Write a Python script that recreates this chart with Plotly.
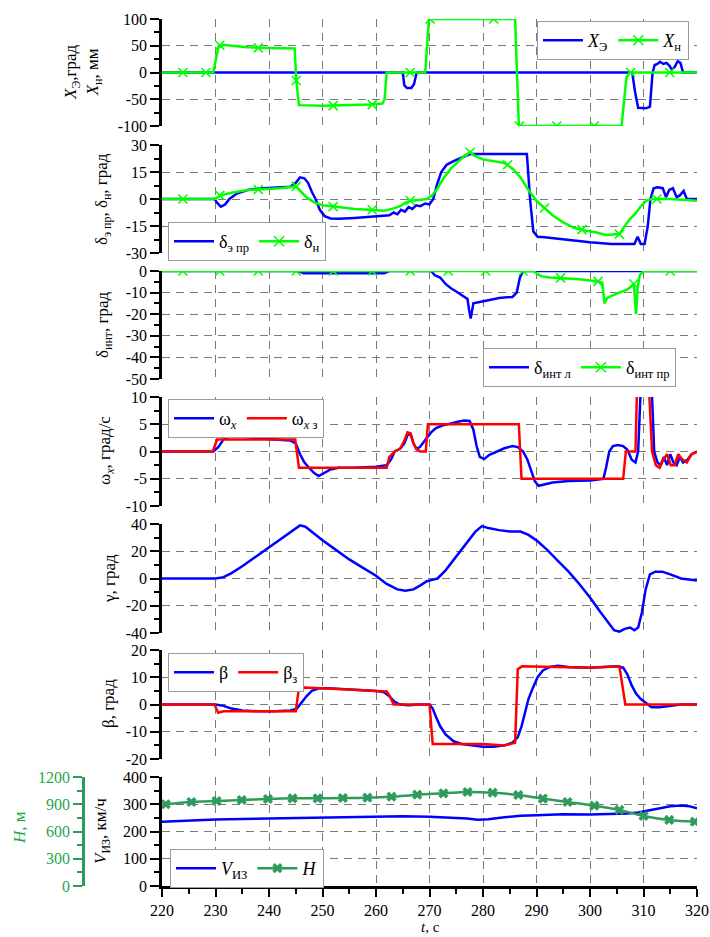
import plotly.graph_objects as go

# ---------------- data ----------------
# Panel 1: X_Э (blue), X_н (green)
t_xe = [220, 265.0, 265.3, 265.8, 266.6, 267.1, 267.6, 307.9, 308.4, 309.0, 310.5, 311.2, 311.7, 312.1, 312.6, 313.1, 313.7, 314.3, 314.9, 315.3, 315.8, 316.4, 316.9, 317.4, 320]
xe = [0, 0, -24, -29, -29, -22, 0, 0, -35, -66, -67, -64, 0, 14, 16, 20, 16, 18, 12, 5, 10, 21, 18, 0, 0]
t_xn = [220, 229.6, 230.5, 231.5, 233, 236, 240, 244.8, 245.1, 245.6, 250, 255, 259, 261.2, 261.6, 262.0, 269.2, 269.9, 286.0, 286.7, 305.9, 306.8, 307.4, 320]
xn = [0, 0, 46, 52, 50, 47, 46, 45, -15, -61, -62, -61, -60, -58, -50, 0, 0, 100, 100, -100, -100, -10, 0, 0]
t_xn_mk = [223.9, 228.2, 230.8, 238.0, 245.1, 252.0, 259.3, 266.4, 270.1, 282.0, 286.8, 293.8, 300.8, 307.6, 314.9]
xn_mk = [0, 0, 51, 46, -15, -62, -60, 0, 100, 100, -100, -100, -100, 0, 0]

# Panel 2: δэ пр (blue), δн (green)
t_de = [220, 229.8, 230.4, 231.0, 231.8, 232.6, 234, 236, 238, 240, 242, 244, 245.0, 245.8, 246.6, 247.3, 248.0, 248.7, 249.5, 250.4, 251.5, 253, 256, 259, 261, 262.5, 263.3, 264.0, 264.7, 265.4, 266.1, 266.8, 267.5, 268.3, 269.2, 270.0, 270.7, 271.4, 272.2, 273.2, 274.5, 276, 277.6, 288.2, 288.8, 289.4, 290.2, 291.5, 293, 296, 300, 304, 308.3, 308.9, 309.5, 310.2, 310.8, 311.3, 311.9, 312.6, 313.6, 314.2, 314.8, 315.5, 316.2, 316.8, 317.5, 318.1, 320]
de = [0, 0, -2.5, -4.3, -3, 0, 3, 5, 5.8, 6, 6.3, 6.8, 9, 12, 11.5, 9, 4, 0, -6, -9.5, -10.8, -11, -10.5, -10, -9.6, -9, -7.5, -8.5, -6, -7, -4.5, -5.5, -3.5, -4, -2.5, -3, 0, 8, 15, 19, 21, 23, 25, 25, 0, -18, -21, -21.3, -21.8, -22.5, -24, -25, -25, -21, -25, -25, -15, 0, 6, 6.5, 6, 1, 5, 6, 1, 2, 4.5, 0, 0]
t_dn = [220, 229.8, 231, 233, 236, 239, 242, 245, 246, 247, 248.5, 250, 253, 256, 259, 261.5, 263, 264.5, 265.5, 266.5, 268, 269.5, 270.5, 271.5, 272.5, 274, 275.5, 276.5, 277.6, 278.5, 280, 282, 284, 285.5, 287, 288.5, 290, 291.5, 293, 295, 297, 299, 301, 303, 305.5, 306.5, 307.5, 308.5, 309.5, 310.5, 311.5, 315, 320]
dn = [0, 0, 2, 3.5, 5, 5.5, 6, 7, 4, 1, -2, -3.5, -4.5, -5.5, -6, -6.5, -5.5, -4, -2, -1, -0.5, 0, 2, 6, 11, 17, 21, 24, 26, 24, 22, 21, 20, 17, 12, 5, -1, -5, -9, -13, -16, -17.5, -18.5, -20, -19.5, -15, -11, -8, -4, -1, 0, 0, -1]
t_dn_mk = [223.9, 230.8, 238.0, 245.1, 252.0, 259.3, 266.4, 277.6, 284.6, 291.5, 298.5, 305.5, 312.5]
dn_mk = [0, 2, 5.3, 7, -4.2, -6, -1, 26, 19, -5, -17, -19.5, 0]

# Panel 3: δинт л (blue), δинт пр (green)
t_dl = [220, 245.5, 246.5, 261.5, 262.5, 270.3, 271.0, 272.0, 273.0, 274.0, 275.0, 276.0, 277.1, 277.4, 277.7, 278.2, 279.0, 281.0, 283.0, 285.5, 286.3, 286.9, 287.5, 320]
dl = [0, 0, -1, -1, 0, 0, -2, -3, -6, -8, -9.5, -11, -13, -18, -22, -15, -14.5, -13.5, -12.5, -12, -10, -3, 0, 0]
t_dp = [220, 289.5, 290.2, 291.0, 292.5, 295, 298, 300.5, 302.3, 302.7, 303.2, 304, 305.5, 307, 308.2, 308.6, 308.9, 309.3, 310, 320]
dp = [0, 0, -1.5, -2.5, -3, -3.3, -3.8, -4.5, -5.5, -15, -12.5, -11.5, -10, -8.5, -6, -20, -8, -2, 0, 0]
t_dp_mk = [223.9, 230.8, 238.0, 245.1, 252.0, 259.3, 266.4, 273.5, 280.5, 287.5, 294.5, 301.5, 308.2, 315.0]
dp_mk = [0, 0, 0, 0, 0, 0, 0, 0, 0, 0, -3.2, -4.8, -6, 0]

# Panel 4: ωx (blue), ωx з (red)
t_wx = [220, 229.6, 230.5, 231.5, 232.5, 234, 236, 238, 241, 244, 245.0, 245.8, 246.6, 247.5, 248.5, 249.3, 250.2, 251.5, 253, 256, 260, 262, 262.8, 263.5, 264.5, 265.3, 266.0, 266.5, 267.0, 267.6, 268.2, 268.8, 269.5, 270.3, 271.2, 272.5, 274, 275.5, 276.5, 277.5, 278.2, 278.8, 279.4, 280.2, 281.2, 282.5, 284, 285.5, 286.5, 287.5, 288.3, 289.0, 289.7, 290.4, 291.5, 293, 296, 300, 302.5, 303.0, 303.6, 304.3, 305.2, 306.2, 307.0, 307.8, 308.5, 309.0, 309.5, 310.0, 311.0, 311.6, 312.0, 312.6, 313.2, 313.8, 314.4, 315.0, 315.6, 316.2, 316.8, 317.4, 318.2, 319, 320]
wx = [0, 0, 0.8, 2.2, 2.7, 2.8, 2.6, 2.4, 2.2, 2.0, 1.5, -0.5, -2.0, -3.0, -4.0, -4.5, -4.0, -3.3, -3.0, -3.0, -2.8, -2.5, -1.5, 0, 0.5, 1.5, 3.3, 3.0, 1.5, 0.5, 0.8, 1.5, 2.5, 3.5, 4.3, 4.8, 5.2, 5.5, 5.7, 5.6, 4.0, 1.0, -1.0, -1.4, -0.6, 0, 0.6, 1.0, 0.8, 0, -1.5, -3.5, -5.5, -6.3, -6.0, -5.7, -5.4, -5.3, -5.0, -3.0, 0, 1.0, 1.2, 1.0, 0.3, -1.5, -2.0, 0, 12, 25, 25, 10, 0, -2, -2.5, -1, -2.5, -0.5, -2, -2.5, -1, -2, -1.5, -0.5, 0]
t_wz = [220, 229.5, 230.3, 231.5, 244.9, 245.6, 246.5, 262.0, 262.5, 263.5, 264.5, 265.3, 265.9, 266.5, 267.0, 267.5, 268.3, 269.3, 269.7, 286.7, 287.2, 306.2, 306.7, 308.5, 308.8, 309.1, 310.8, 311.1, 311.6, 312.3, 313.0, 313.7, 314.4, 315.1, 315.8, 316.5, 317.3, 318.1, 319, 320]
wz = [0, 0, 2.2, 2.2, 2.2, -3, -3, -3, -1, 0, 0.5, 2, 3.5, 3.3, 1.5, 0.5, 0, 0, 5, 5, -5, -5, 0, 0, 12, 25, 25, 10, 0, -2.5, -3, -1.5, -0.5, -2.5, -2.5, -0.5, -1.5, -2, -0.5, 0]

# Panel 5: γ
t_g = [220, 230, 231.5, 233, 235, 237.5, 240, 242.5, 244.5, 245.8, 246.8, 248, 250, 252.5, 255, 257.5, 260, 262, 264, 265.5, 267, 268.3, 269.5, 270.5, 271.5, 273, 275, 277, 278.5, 279.8, 281, 283, 285, 287, 288.5, 290, 292, 294, 296, 298, 300, 302, 303.5, 304.5, 305.5, 306.5, 307.5, 308.3, 309.0, 309.7, 310.4, 311.2, 312.2, 313.5, 315, 317, 320]
g = [0, 0, 1, 4, 9, 16, 23, 30, 36, 39, 38, 34, 28, 21, 14, 8, 2, -4, -8, -9, -8, -5, -2, -1, 0, 6, 16, 26, 34, 38.5, 37, 35.5, 34.5, 34.5, 32, 28, 21, 13, 5, -4, -14, -25, -33, -38, -39, -37, -36, -38, -36, -25, -8, 3, 5, 5, 3, 0, -1.5]

# Panel 6: β (blue), βз (red)
t_b = [220, 230, 231.5, 233, 235, 238, 241, 244, 245.2, 246, 247, 248, 249.5, 251, 254, 257, 260, 261.5, 262.5, 263.5, 264.5, 266, 268, 270, 270.6, 271.3, 272, 273, 274.5, 276, 278, 280, 282, 284, 285.5, 286.5, 287.2, 287.8, 288.5, 289.3, 290.2, 291.2, 292.5, 294, 296, 300, 303, 305, 306.2, 307, 307.8, 308.6, 309.5, 310.5, 311.5, 313, 315, 317, 320]
b = [0, 0, -0.5, -1.5, -2.2, -2.5, -2.5, -2.2, -1.5, 0.5, 3, 5, 6, 6, 5.6, 5.2, 5, 4.5, 3, 1, 0, -0.3, 0, 0, -1.5, -5, -8, -11, -13.5, -14.5, -15, -15.5, -15.5, -15, -14, -12, -8, -3, 2, 6, 10, 12.5, 13.8, 14.2, 13.8, 13.5, 13.8, 14, 13.5, 11, 7, 4, 2, 0.5, -1, -1, -0.5, 0, 0]
t_bz = [220, 229.8, 230.5, 231.5, 245.0, 245.6, 246.5, 250, 255, 260, 262, 262.6, 263.3, 270.0, 270.6, 280, 284, 286.0, 286.5, 287.3, 300, 305.5, 306.0, 306.6, 320]
bz = [0, 0, -3, -2.5, -2.5, 6, 6.2, 6, 5.5, 5, 4.8, 3, 0, 0, -14.5, -14.5, -15, -14, 13, 14, 13.5, 14, 7, 0, 0]

# Panel 7: V_ИЗ (blue, left axis), H (green, second axis)
t_v = [220, 225, 230, 235, 240, 245, 250, 255, 260, 265, 270, 274, 277, 279, 281, 284, 287, 290, 295, 300, 304, 307, 309, 311, 313, 315, 317, 318.5, 320]
v = [236, 241, 244, 246, 248, 249, 250, 252, 255, 256, 254, 251, 248, 243, 245, 252, 258, 260, 263, 262, 263, 266, 270, 278, 287, 293, 295, 293, 285]
t_h = [220.7, 225.5, 230.2, 234.9, 239.8, 244.4, 249.1, 253.8, 258.4, 262.9, 267.7, 272.6, 277.1, 281.8, 286.6, 291.2, 295.8, 300.8, 305.5, 310.0, 314.8, 319.6]
h = [900, 925, 936, 947, 958, 965, 965, 969, 972, 983, 1005, 1020, 1035, 1027, 1002, 962, 925, 884, 837, 771, 727, 708]

x_ticks = [220, 230, 240, 250, 260, 270, 280, 290, 300, 310, 320]
y_ticks = [
    [-100, -50, 0, 50, 100],
    [-30, -15, 0, 15, 30],
    [-50, -40, -30, -20, -10, 0],
    [-10, -5, 0, 5, 10],
    [-40, -20, 0, 20, 40],
    [-20, -10, 0, 10, 20],
    [0, 100, 200, 300, 400],
]
h_ticks = [0, 300, 600, 900, 1200]

# ---------------- style ----------------
BLUE = '#0000FF'
GREEN = '#00FF00'
RED = '#FF0000'
HGREEN = '#2E9B5A'
HTEXT = '#1FA84C'
FONT = 'Liberation Serif'
GRID = '#7a7a7a'
W, HH = 710, 937
XL, XR = 162, 697
panels = [(19, 126), (145, 253), (271, 379), (397, 506), (524, 633), (650, 759), (777, 886)]

fig = go.Figure()


def ax(i):
    return ('x' if i == 1 else f'x{i}'), ('y' if i == 1 else f'y{i}')


def add_line(i, xs, ys, color, name=None, legend=None, showlegend=False):
    xa, ya = ax(i)
    fig.add_trace(go.Scatter(x=xs, y=ys, mode='lines', line=dict(color=color, width=2.5),
                             name=name, showlegend=showlegend, legend=legend,
                             xaxis=xa, yaxis=ya, hoverinfo='skip'))


def add_markers(i, xs, ys, color):
    xa, ya = ax(i)
    fig.add_trace(go.Scatter(x=xs, y=ys, mode='markers',
                             marker=dict(symbol='x-thin', size=9, line=dict(color=color, width=1.6)),
                             showlegend=False, xaxis=xa, yaxis=ya, hoverinfo='skip'))


def add_legend_dummy(i, color, name, legend):
    xa, ya = ax(i)
    fig.add_trace(go.Scatter(x=[None], y=[None], mode='lines+markers', name=name, legend=legend,
                             line=dict(color=color, width=2.5),
                             marker=dict(symbol='x-thin', size=10, line=dict(color=color, width=1.6)),
                             xaxis=xa, yaxis=ya, showlegend=True))


# panel 1
add_line(1, t_xe, xe, BLUE, '<i>X</i><sub>Э</sub>', 'legend', True)
add_line(1, t_xn, xn, GREEN)
add_markers(1, t_xn_mk, xn_mk, GREEN)
add_legend_dummy(1, GREEN, '<i>X</i><sub>н</sub>', 'legend')
# panel 2
add_line(2, t_de, de, BLUE, 'δ<sub>э пр</sub>', 'legend2', True)
add_line(2, t_dn, dn, GREEN)
add_markers(2, t_dn_mk, dn_mk, GREEN)
add_legend_dummy(2, GREEN, 'δ<sub>н</sub>', 'legend2')
# panel 3
add_line(3, t_dl, dl, BLUE, 'δ<sub>инт л</sub>', 'legend3', True)
add_line(3, t_dp, dp, GREEN)
add_markers(3, t_dp_mk, dp_mk, GREEN)
add_legend_dummy(3, GREEN, 'δ<sub>инт пр</sub>', 'legend3')
# panel 4
add_line(4, t_wx, wx, BLUE, 'ω<sub><i>x</i></sub>', 'legend4', True)
add_line(4, t_wz, wz, RED, 'ω<sub><i>x</i> з</sub>', 'legend4', True)
# panel 5
add_line(5, t_g, g, BLUE)
# panel 6
add_line(6, t_b, b, BLUE, 'β', 'legend6', True)
add_line(6, t_bz, bz, RED, 'β<sub>з</sub>', 'legend6', True)
# panel 7
add_line(7, t_v, v, BLUE, '<i>V</i><sub>ИЗ</sub>', 'legend7', True)
fig.add_trace(go.Scatter(x=t_h, y=h, mode='lines+markers', name='<i>H</i>', legend='legend7',
                         line=dict(color=HGREEN, width=2.5, shape='spline'),
                         marker=dict(symbol='x', size=9, color=HGREEN),
                         xaxis='x7', yaxis='y8', hoverinfo='skip'))

layout = dict(width=W, height=HH, margin=dict(l=0, r=0, t=0, b=0, autoexpand=False), autosize=False,
              paper_bgcolor='white', plot_bgcolor='rgba(0,0,0,0)', showlegend=True,
              font=dict(family=FONT, size=16, color='black'))

for i in range(1, 8):
    top, bot = panels[i - 1]
    xa, ya = ax(i)
    xkey = 'xaxis' if i == 1 else f'xaxis{i}'
    ykey = 'yaxis' if i == 1 else f'yaxis{i}'
    last = (i == 7)
    layout[xkey] = dict(domain=[XL / W, XR / W], range=[220, 320], anchor=ya, automargin=False,
                        tickmode='array', tickvals=x_ticks, ticktext=[str(v_) for v_ in x_ticks],
                        showticklabels=last, showline=last, linecolor='black', linewidth=2.5,
                        ticks='outside' if last else '', ticklen=8, tickwidth=2, tickcolor='black',
                        showgrid=True, gridcolor=GRID, griddash='8px,6px', gridwidth=1,
                        zeroline=False, tickfont=dict(family=FONT, size=16, color='black'),
                        ticklabelstandoff=0, ticklabeloverflow='allow',
                        minor=dict(ticks='outside' if last else '', ticklen=5, tickwidth=1.5,
                                   tickcolor='black', tick0=220, dtick=5, showgrid=False))
    yt = y_ticks[i - 1]
    step = yt[1] - yt[0]
    layout[ykey] = dict(domain=[1 - bot / HH, 1 - top / HH], range=[yt[0], yt[-1]], anchor=xa,
                        automargin=False, ticklabeloverflow='allow',
                        tickmode='array', tickvals=yt, ticktext=[str(v_) for v_ in yt],
                        showline=True, linecolor='black', linewidth=2.5,
                        ticks='outside', ticklen=9, tickwidth=2, tickcolor='black',
                        showgrid=True, gridcolor=GRID, griddash='8px,6px', gridwidth=1,
                        zeroline=False, tickfont=dict(family=FONT, size=16, color='black'),
                        minor=dict(ticks='outside', ticklen=5, tickwidth=1.5, tickcolor='black',
                                   tick0=yt[0], dtick=step / 2, showgrid=False))

layout['yaxis8'] = dict(overlaying='y7', anchor='free', position=83 / W, side='left', automargin=False,
                        range=[h_ticks[0], h_ticks[-1]], tickmode='array', tickvals=h_ticks,
                        ticktext=[str(v_) for v_ in h_ticks], ticklabeloverflow='allow',
                        showline=True, linecolor=HGREEN, linewidth=2.5,
                        ticks='outside', ticklen=9, tickwidth=2, tickcolor=HGREEN,
                        showgrid=False, zeroline=False,
                        tickfont=dict(family=FONT, size=16, color=HTEXT),
                        minor=dict(ticks='outside', ticklen=5, tickwidth=1.5, tickcolor=HGREEN,
                                   tick0=0, dtick=150, showgrid=False))

leg_common = dict(orientation='h', xanchor='left', yanchor='top', bgcolor='white',
                  bordercolor='#9a9a9a', borderwidth=1, font=dict(family=FONT, size=18, color='black'),
                  itemwidth=40, tracegroupgap=0)
legend_pos = {'legend': (537, 21), 'legend2': (168, 222), 'legend3': (483, 348),
              'legend4': (168, 399), 'legend6': (168, 653), 'legend7': (170, 849)}
for k, (px, py) in legend_pos.items():
    layout[k] = dict(leg_common, x=px / W, y=1 - py / HH)

ann = []
titles = [
    ('<i>X</i><sub>Э</sub>,град<br><i>X</i><sub>н</sub>, мм', 83, 72),
    ('δ<sub>э пр</sub>, δ<sub>н</sub>, град', 103, 199),
    ('δ<sub>инт</sub>, град', 104, 325),
    ('ω<sub><i>x</i></sub>, град/с', 106, 451),
    ('γ, град', 109, 578),
    ('β, град', 108, 704),
    ('<i>V</i><sub>ИЗ</sub>, км/ч', 102, 831),
]
for txt, px, py in titles:
    ann.append(dict(text=txt, x=px / W, y=1 - py / HH, xref='paper', yref='paper', showarrow=False,
                    textangle=-90, xanchor='center', yanchor='middle',
                    font=dict(family=FONT, size=17, color='black')))
ann.append(dict(text='<i>H</i>, м', x=19 / W, y=1 - 828 / HH, xref='paper', yref='paper', showarrow=False,
                textangle=-90, xanchor='center', yanchor='middle',
                font=dict(family=FONT, size=17, color=HTEXT)))
ann.append(dict(text='<i>t</i>, с', x=430 / W, y=1 - 927 / HH, xref='paper', yref='paper', showarrow=False,
                xanchor='center', yanchor='middle', borderpad=0,
                font=dict(family=FONT, size=15, color='black')))
layout['annotations'] = ann

fig.update_layout(**layout)
fig.write_html('out.html')
